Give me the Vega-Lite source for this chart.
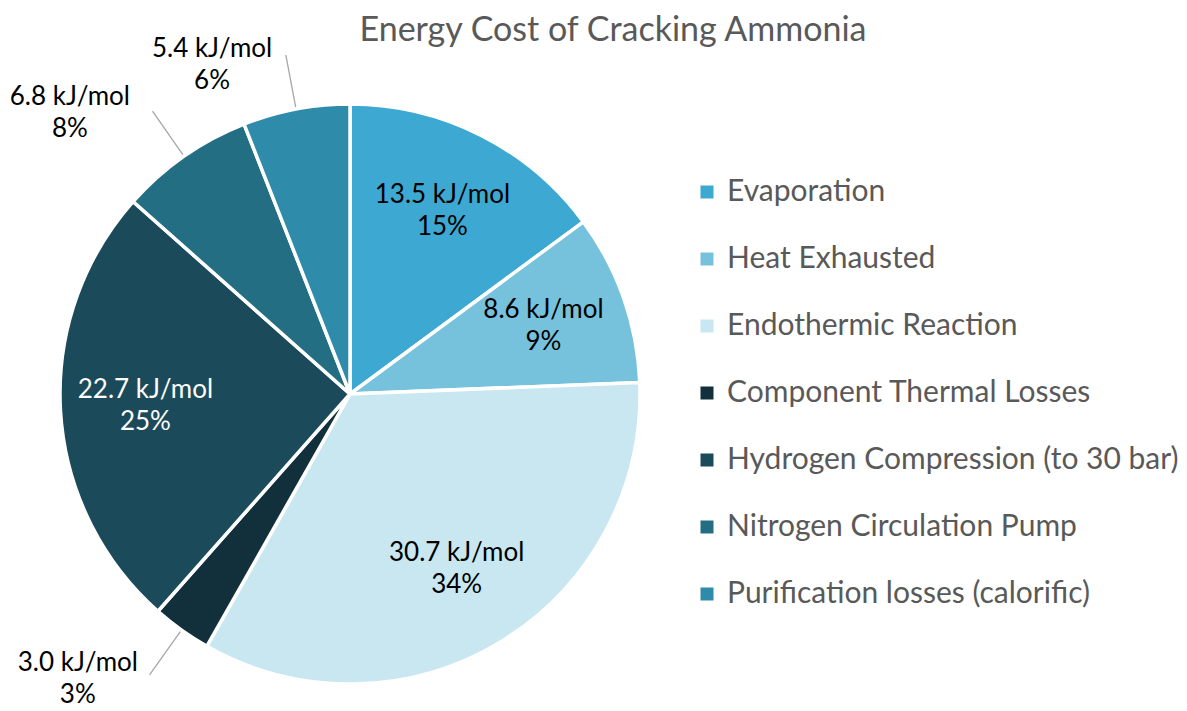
{
  "$schema": "https://vega.github.io/schema/vega-lite/v6.json",
  "width": 700,
  "height": 580,
  "autosize": {"type": "none"},
  "padding": {"left": 0, "top": 104, "right": 487, "bottom": 27},
  "background": "white",
  "title": {"text": "Energy Cost of Cracking Ammonia", "font": "Lato", "fontSize": 34, "fontWeight": "normal", "color": "#595959", "anchor": "middle", "frame": "group", "dx": 263, "offset": -12},
  "data": {"values": [
    {"cat": "Evaporation", "kj": 13.5, "pct": "15%", "ord": 1},
    {"cat": "Heat Exhausted", "kj": 8.6, "pct": "9%", "ord": 2},
    {"cat": "Endothermic Reaction", "kj": 30.7, "pct": "34%", "ord": 3},
    {"cat": "Component Thermal Losses", "kj": 3.0, "pct": "3%", "ord": 4},
    {"cat": "Hydrogen Compression (to 30 bar)", "kj": 22.7, "pct": "25%", "ord": 5},
    {"cat": "Nitrogen Circulation Pump", "kj": 6.8, "pct": "8%", "ord": 6},
    {"cat": "Purification losses (calorific)", "kj": 5.4, "pct": "6%", "ord": 7}
  ]},
  "transform": [
    {"stack": "kj", "groupby": [], "sort": [{"field": "ord", "order": "ascending"}], "as": ["t0", "t1"]},
    {"calculate": "(datum.t0 + datum.t1) / 2", "as": "mid"},
    {"calculate": "format(datum.kj, '.1f') + ' kJ/mol|' + datum.pct", "as": "lbl"}
  ],
  "config": {"view": {"stroke": null}},
  "layer": [
    {
      "mark": {"type": "arc", "outerRadius": 290, "stroke": "white", "strokeWidth": 3.5},
      "encoding": {
        "theta": {"field": "t0", "type": "quantitative", "scale": {"domain": [0, 90.7], "zero": true, "nice": false}},
        "theta2": {"field": "t1"},
        "color": {
          "field": "cat", "type": "nominal",
          "scale": {
            "domain": ["Evaporation", "Heat Exhausted", "Endothermic Reaction", "Component Thermal Losses", "Hydrogen Compression (to 30 bar)", "Nitrogen Circulation Pump", "Purification losses (calorific)"],
            "range": ["#3DA8D1", "#76C1DC", "#C8E7F1", "#12303B", "#1B4A5A", "#246E84", "#2E8BA9"]
          },
          "sort": null,
          "legend": {
            "title": null, "orient": "none", "legendX": 692, "legendY": 73,
            "symbolType": "square", "symbolSize": 169, "symbolStrokeWidth": 0,
            "labelFont": "Lato", "labelFontSize": 30, "labelColor": "#595959",
            "labelOffset": 5, "rowPadding": 37, "labelLimit": 0
          }
        }
      }
    },
    {
      "transform": [{"filter": "datum.ord == 4 || datum.ord == 6 || datum.ord == 7"}],
      "mark": {"type": "arc", "radius": 345, "radius2": 292, "fillOpacity": 0, "stroke": "#a6a6a6", "strokeWidth": 1.3},
      "encoding": {
        "theta": {"field": "mid", "type": "quantitative"},
        "theta2": {"field": "mid"}
      }
    },
    {
      "transform": [{"filter": "datum.ord == 1 || datum.ord == 2 || datum.ord == 3 || datum.ord == 5"}],
      "mark": {"type": "text", "radius": 205, "dy": -16, "font": "Lato", "fontSize": 26, "lineBreak": "|", "lineHeight": 32, "baseline": "middle"},
      "encoding": {
        "theta": {"field": "mid", "type": "quantitative"},
        "text": {"field": "lbl"},
        "color": {"condition": {"test": "datum.ord == 5", "value": "white"}, "value": "black"}
      }
    },
    {
      "transform": [{"filter": "datum.ord == 4"}],
      "mark": {"type": "text", "radius": 360, "dx": -63, "dy": -24, "font": "Lato", "fontSize": 26, "lineBreak": "|", "lineHeight": 32, "baseline": "middle", "color": "black"},
      "encoding": {"theta": {"field": "mid", "type": "quantitative"}, "text": {"field": "lbl"}}
    },
    {
      "transform": [{"filter": "datum.ord == 6"}],
      "mark": {"type": "text", "radius": 360, "dx": -74, "dy": -2, "font": "Lato", "fontSize": 26, "lineBreak": "|", "lineHeight": 32, "baseline": "middle", "color": "black"},
      "encoding": {"theta": {"field": "mid", "type": "quantitative"}, "text": {"field": "lbl"}}
    },
    {
      "transform": [{"filter": "datum.ord == 7"}],
      "mark": {"type": "text", "radius": 360, "dx": -71, "dy": 9, "font": "Lato", "fontSize": 26, "lineBreak": "|", "lineHeight": 32, "baseline": "middle", "color": "black"},
      "encoding": {"theta": {"field": "mid", "type": "quantitative"}, "text": {"field": "lbl"}}
    }
  ]
}
